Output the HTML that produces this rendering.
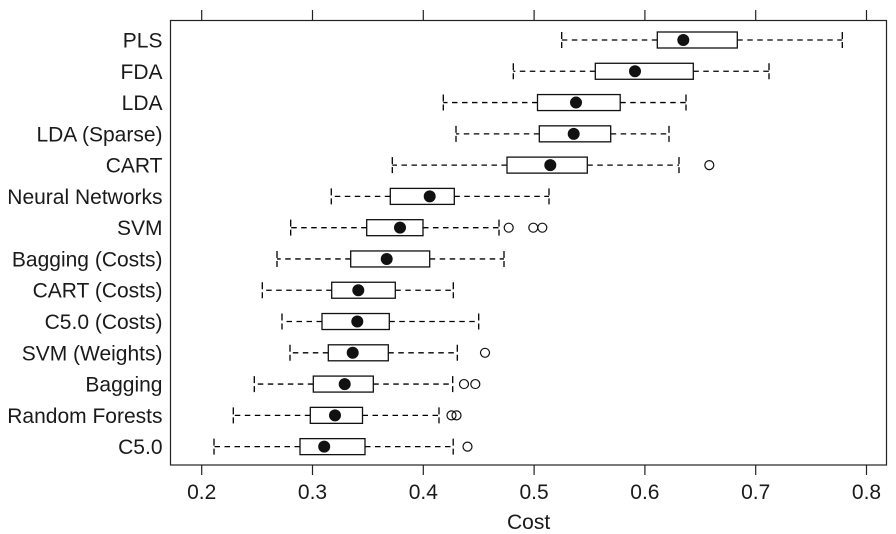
<!DOCTYPE html>
<html>
<head>
<meta charset="utf-8">
<style>
  html,body{margin:0;padding:0;background:#fff;}
  svg{display:block;}
  text{font-family:"Liberation Sans",Arial,sans-serif;font-size:21px;fill:#1a1a1a;}
</style>
</head>
<body>
<svg width="896" height="534" viewBox="0 0 896 534" xmlns="http://www.w3.org/2000/svg">
  <!-- frame -->
  <rect x="170.5" y="20.5" width="716" height="444.5" fill="none" stroke="#222" stroke-width="1.2"/>
  <!-- ticks -->
  <g stroke="#222" stroke-width="1.2">
    <line x1="201.7" y1="10" x2="201.7" y2="20"/>
    <line x1="312.5" y1="10" x2="312.5" y2="20"/>
    <line x1="423.3" y1="10" x2="423.3" y2="20"/>
    <line x1="534.1" y1="10" x2="534.1" y2="20"/>
    <line x1="644.9" y1="10" x2="644.9" y2="20"/>
    <line x1="755.7" y1="10" x2="755.7" y2="20"/>
    <line x1="866.5" y1="10" x2="866.5" y2="20"/>
    <line x1="201.7" y1="465" x2="201.7" y2="475"/>
    <line x1="312.5" y1="465" x2="312.5" y2="475"/>
    <line x1="423.3" y1="465" x2="423.3" y2="475"/>
    <line x1="534.1" y1="465" x2="534.1" y2="475"/>
    <line x1="644.9" y1="465" x2="644.9" y2="475"/>
    <line x1="755.7" y1="465" x2="755.7" y2="475"/>
    <line x1="866.5" y1="465" x2="866.5" y2="475"/>
  </g>
  <!-- tick labels -->
  <g text-anchor="middle">
    <text x="201.7" y="499">0.2</text>
    <text x="312.5" y="499">0.3</text>
    <text x="423.3" y="499">0.4</text>
    <text x="534.1" y="499">0.5</text>
    <text x="644.9" y="499">0.6</text>
    <text x="755.7" y="499">0.7</text>
    <text x="866.5" y="499">0.8</text>
    <text x="528.6" y="529">Cost</text>
  </g>
  <!-- y labels -->
  <g text-anchor="end">
    <text x="162.5" y="47.5">PLS</text>
    <text x="162.5" y="78.8">FDA</text>
    <text x="162.5" y="110.1">LDA</text>
    <text x="162.5" y="141.3">LDA (Sparse)</text>
    <text x="162.5" y="172.6">CART</text>
    <text x="162.5" y="203.9">Neural Networks</text>
    <text x="162.5" y="235.2">SVM</text>
    <text x="162.5" y="266.5">Bagging (Costs)</text>
    <text x="162.5" y="297.7">CART (Costs)</text>
    <text x="162.5" y="329.0">C5.0 (Costs)</text>
    <text x="162.5" y="360.3">SVM (Weights)</text>
    <text x="162.5" y="391.6">Bagging</text>
    <text x="162.5" y="422.9">Random Forests</text>
    <text x="162.5" y="454.1">C5.0</text>
  </g>

  <!-- whiskers -->
  <g stroke="#000" stroke-width="1.3" stroke-dasharray="5.5,4.5" fill="none">
    <line x1="657.3" y1="40" x2="561.7" y2="40"/><line x1="737.3" y1="40" x2="842.3" y2="40"/>
    <line x1="595.3" y1="71.28" x2="513.3" y2="71.28"/><line x1="693.3" y1="71.28" x2="769" y2="71.28"/>
    <line x1="537.5" y1="102.56" x2="443.3" y2="102.56"/><line x1="620.2" y1="102.56" x2="686" y2="102.56"/>
    <line x1="539.3" y1="133.84" x2="456" y2="133.84"/><line x1="610.7" y1="133.84" x2="669" y2="133.84"/>
    <line x1="507" y1="165.12" x2="392.3" y2="165.12"/><line x1="587.3" y1="165.12" x2="679" y2="165.12"/>
    <line x1="390.3" y1="196.4" x2="331.3" y2="196.4"/><line x1="454.3" y1="196.4" x2="549" y2="196.4"/>
    <line x1="366.7" y1="227.68" x2="290.7" y2="227.68"/><line x1="423" y1="227.68" x2="499" y2="227.68"/>
    <line x1="350.7" y1="258.96" x2="277" y2="258.96"/><line x1="429.7" y1="258.96" x2="504" y2="258.96"/>
    <line x1="331.7" y1="290.24" x2="262.3" y2="290.24"/><line x1="395.3" y1="290.24" x2="453.3" y2="290.24"/>
    <line x1="322" y1="321.52" x2="282" y2="321.52"/><line x1="389.3" y1="321.52" x2="478.7" y2="321.52"/>
    <line x1="328.3" y1="352.8" x2="290" y2="352.8"/><line x1="388.3" y1="352.8" x2="457.3" y2="352.8"/>
    <line x1="313.3" y1="384.08" x2="254.3" y2="384.08"/><line x1="373.3" y1="384.08" x2="452.7" y2="384.08"/>
    <line x1="310.3" y1="415.36" x2="233.3" y2="415.36"/><line x1="362.5" y1="415.36" x2="439" y2="415.36"/>
    <line x1="300" y1="446.64" x2="214" y2="446.64"/><line x1="365" y1="446.64" x2="453.2" y2="446.64"/>
  </g>
  <!-- caps -->
  <g stroke="#000" stroke-width="1.3" stroke-dasharray="7,3" fill="none">
    <line x1="561.7" y1="32" x2="561.7" y2="48"/><line x1="842.3" y1="32" x2="842.3" y2="48"/>
    <line x1="513.3" y1="63.28" x2="513.3" y2="79.28"/><line x1="769" y1="63.28" x2="769" y2="79.28"/>
    <line x1="443.3" y1="94.56" x2="443.3" y2="110.56"/><line x1="686" y1="94.56" x2="686" y2="110.56"/>
    <line x1="456" y1="125.84" x2="456" y2="141.84"/><line x1="669" y1="125.84" x2="669" y2="141.84"/>
    <line x1="392.3" y1="157.12" x2="392.3" y2="173.12"/><line x1="679" y1="157.12" x2="679" y2="173.12"/>
    <line x1="331.3" y1="188.4" x2="331.3" y2="204.4"/><line x1="549" y1="188.4" x2="549" y2="204.4"/>
    <line x1="290.7" y1="219.68" x2="290.7" y2="235.68"/><line x1="499" y1="219.68" x2="499" y2="235.68"/>
    <line x1="277" y1="250.96" x2="277" y2="266.96"/><line x1="504" y1="250.96" x2="504" y2="266.96"/>
    <line x1="262.3" y1="282.24" x2="262.3" y2="298.24"/><line x1="453.3" y1="282.24" x2="453.3" y2="298.24"/>
    <line x1="282" y1="313.52" x2="282" y2="329.52"/><line x1="478.7" y1="313.52" x2="478.7" y2="329.52"/>
    <line x1="290" y1="344.8" x2="290" y2="360.8"/><line x1="457.3" y1="344.8" x2="457.3" y2="360.8"/>
    <line x1="254.3" y1="376.08" x2="254.3" y2="392.08"/><line x1="452.7" y1="376.08" x2="452.7" y2="392.08"/>
    <line x1="233.3" y1="407.36" x2="233.3" y2="423.36"/><line x1="439" y1="407.36" x2="439" y2="423.36"/>
    <line x1="214" y1="438.64" x2="214" y2="454.64"/><line x1="453.2" y1="438.64" x2="453.2" y2="454.64"/>
  </g>
  <!-- boxes -->
  <g stroke="#111" stroke-width="1.3" fill="#fff">
    <rect x="657.3" y="32" width="80" height="16"/>
    <rect x="595.3" y="63.28" width="98" height="16"/>
    <rect x="537.5" y="94.56" width="82.7" height="16"/>
    <rect x="539.3" y="125.84" width="71.4" height="16"/>
    <rect x="507" y="157.12" width="80.3" height="16"/>
    <rect x="390.3" y="188.4" width="64" height="16"/>
    <rect x="366.7" y="219.68" width="56.3" height="16"/>
    <rect x="350.7" y="250.96" width="79" height="16"/>
    <rect x="331.7" y="282.24" width="63.6" height="16"/>
    <rect x="322" y="313.52" width="67.3" height="16"/>
    <rect x="328.3" y="344.8" width="60" height="16"/>
    <rect x="313.3" y="376.08" width="60" height="16"/>
    <rect x="310.3" y="407.36" width="52.2" height="16"/>
    <rect x="300" y="438.64" width="65" height="16"/>
  </g>
  <!-- medians -->
  <g fill="#111">
    <circle cx="683.3" cy="40" r="6"/>
    <circle cx="635" cy="71.28" r="6"/>
    <circle cx="576" cy="102.56" r="6"/>
    <circle cx="573.7" cy="133.84" r="6"/>
    <circle cx="550.3" cy="165.12" r="6"/>
    <circle cx="429.7" cy="196.4" r="6"/>
    <circle cx="400" cy="227.68" r="6"/>
    <circle cx="386.7" cy="258.96" r="6"/>
    <circle cx="358.3" cy="290.24" r="6"/>
    <circle cx="357.3" cy="321.52" r="6"/>
    <circle cx="352.7" cy="352.8" r="6"/>
    <circle cx="344.7" cy="384.08" r="6"/>
    <circle cx="335" cy="415.36" r="6"/>
    <circle cx="324.2" cy="446.64" r="6"/>
  </g>
  <!-- outliers -->
  <g fill="none" stroke="#111" stroke-width="1.2">
    <circle cx="709.3" cy="165.12" r="4.5"/>
    <circle cx="508.7" cy="227.68" r="4.5"/>
    <circle cx="533.3" cy="227.68" r="4.5"/>
    <circle cx="542.3" cy="227.68" r="4.5"/>
    <circle cx="485" cy="352.8" r="4.5"/>
    <circle cx="464" cy="384.08" r="4.5"/>
    <circle cx="475.3" cy="384.08" r="4.5"/>
    <circle cx="451.5" cy="415.36" r="4.5"/>
    <circle cx="456.5" cy="415.36" r="4.5"/>
    <circle cx="467.5" cy="446.64" r="4.5"/>
  </g>
</svg>
</body>
</html>
